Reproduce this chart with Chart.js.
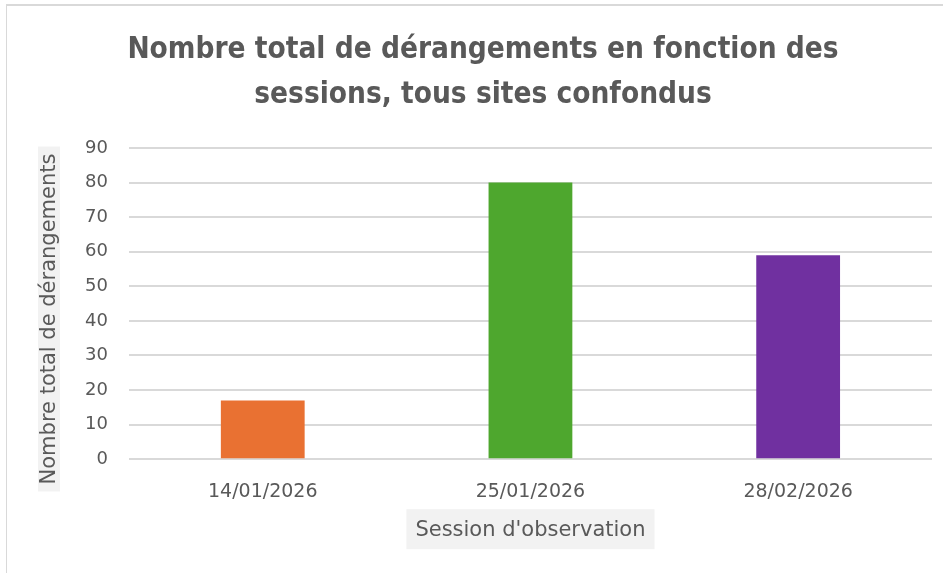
<!DOCTYPE html>
<html>
<head>
<meta charset="utf-8">
<script src="https://cdn.jsdelivr.net/npm/chart.js@4.4.1/dist/chart.umd.min.js"></script>
<style>
    html, body { margin: 0; padding: 0; background: #fff; }
    #wrap { position: absolute; left: 0; top: 0; width: 943px; height: 573px; }
    #frame { position: absolute; left: 6px; top: 4px; width: 937px; height: 569px;
             border-left: 1px solid #d9d9d9; border-top: 2px solid #d9d9d9; box-sizing: border-box; }
</style>
</head>
<body>
<div id="wrap">
    <div id="frame"></div>
    <canvas id="chart" width="943" height="573"></canvas>
</div>
<script>
// Data
const sessions = ['14/01/2026', '25/01/2026', '28/02/2026'];
const disturbances = [17, 80, 59];
const barColors = ['#E97132', '#4EA72E', '#7030A0'];
const yTicks = [0, 10, 20, 30, 40, 50, 60, 70, 80, 90];

const chartTitle = ['Nombre total de dérangements en fonction des', 'sessions, tous sites confondus'];
const xTitle = "Session d'observation";
const yTitle = 'Nombre total de dérangements';

const grey = '#595959';
const narrow = "'Liberation Sans Narrow', 'DejaVu Sans Condensed', 'Liberation Sans', sans-serif";
const wide = "'DejaVu Sans', sans-serif";

// Excel style axis titles: grey box behind the text
const axisBoxes = {
    id: 'axisBoxes',
    afterDraw(chart) {
        const ctx = chart.ctx;
        const area = chart.chartArea;
        ctx.save();
        ctx.textAlign = 'center';
        ctx.textBaseline = 'middle';

        // x title
        ctx.font = "21px " + wide;
        const xw = ctx.measureText(xTitle).width;
        const xc = (area.left + area.right) / 2;
        const yc = area.bottom + 70;
        ctx.fillStyle = '#f2f2f2';
        ctx.fillRect(xc - xw / 2 - 9, yc - 20, xw + 18, 40);
        ctx.fillStyle = grey;
        ctx.fillText(xTitle, xc, yc + 1);

        // y title (rotated)
        ctx.font = "21px " + wide;
        const yw = ctx.measureText(yTitle).width;
        const cx = 49;
        const cy = area.top + 171;
        ctx.fillStyle = '#f2f2f2';
        ctx.fillRect(cx - 11, cy - yw / 2 - 7, 22, yw + 14);
        ctx.translate(cx, cy);
        ctx.rotate(-Math.PI / 2);
        ctx.fillStyle = grey;
        ctx.fillText(yTitle, 0, 1);

        ctx.restore();
    }
};

const ctx = document.getElementById('chart').getContext('2d');
new Chart(ctx, {
    type: 'bar',
    data: {
        labels: sessions,
        datasets: [{
            label: 'Nombre total de dérangements',
            data: disturbances,
            backgroundColor: barColors,
            borderWidth: 0,
            categoryPercentage: 1,
            barPercentage: 0.313
        }]
    },
    options: {
        responsive: false,
        animation: false,
        layout: { padding: { left: 34, right: 11, top: 28, bottom: 57 } },
        plugins: {
            legend: { display: false },
            tooltip: { enabled: false },
            title: {
                display: true,
                text: chartTitle,
                color: grey,
                font: { family: narrow, size: 29.5, weight: 'bold', lineHeight: '45px' },
                padding: { top: 0, bottom: 30 }
            }
        },
        scales: {
            x: {
                grid: { display: false },
                border: { display: false },
                ticks: { color: grey, font: { family: wide, size: 19 }, padding: 13 }
            },
            y: {
                min: 0,
                max: 90,
                afterBuildTicks(scale) { scale.ticks = yTicks.map(v => ({ value: v })); },
                afterFit(scale) { scale.width += 30; },
                grid: { color: '#d9d9d9', lineWidth: 2, drawTicks: false },
                border: { display: false },
                ticks: { color: grey, font: { family: wide, size: 18 }, padding: 21 }
            }
        }
    },
    plugins: [axisBoxes]
});
</script>
</body>
</html>
